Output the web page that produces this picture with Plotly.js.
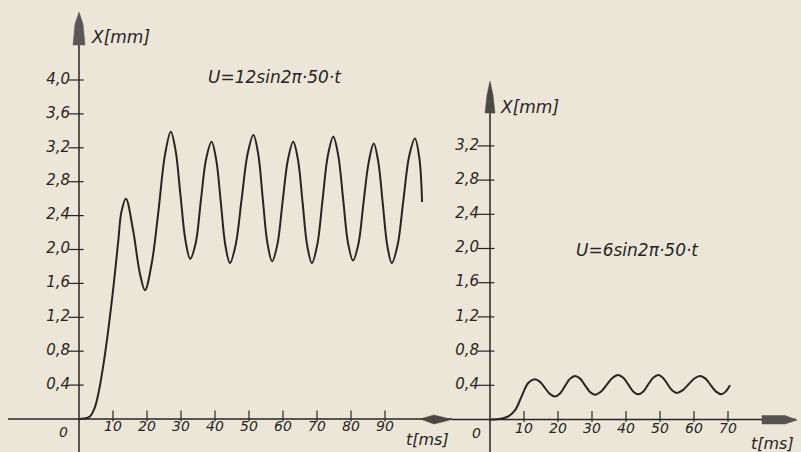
<!DOCTYPE html>
<html>
<head>
<meta charset="utf-8">
<script src="https://cdn.plot.ly/plotly-3.0.1.min.js"></script>
<style>html,body{margin:0;padding:0;background:#ece6d8;}#chart{width:801px;height:452px;}</style>
</head>
<body>
<div id="chart"></div>
<script>
// ---- data ----
// left chart: U = 12 sin 2π·50·t
const tLeft = [0, 1.5, 3.2, 4.5, 5.7, 7.1, 8.6, 10.1, 11.5, 12.5, 13.8, 15.9, 17.9, 19.4, 21.4, 23.3, 25.3, 27,
  28.4, 29.85, 31.3, 32.7, 34.3, 35.85, 37.4, 39, 40.35, 41.7, 43.05, 44.4, 46.1, 47.85, 49.6, 51.3,
  52.7, 54.05, 55.4, 56.8, 58.35, 59.9, 61.45, 63, 64.4, 65.75, 67.1, 68.5, 70.1, 71.65, 73.2, 74.8,
  76.25, 77.7, 79.15, 80.6, 82.15, 83.7, 85.25, 86.7, 88.0, 89.35, 90.7, 92, 93.7, 95.4, 97.1, 98.8, 100.1, 100.9];
const xLeft = [0, 0.005, 0.03, 0.12, 0.3, 0.62, 1.05, 1.55, 2.08, 2.45, 2.6, 2.23, 1.72, 1.52, 1.84, 2.43, 3.12, 3.39,
  3.17, 2.64, 2.11, 1.89, 2.07, 2.58, 3.07, 3.27, 3.06, 2.56, 2.05, 1.84, 2.06, 2.6, 3.13, 3.35,
  3.13, 2.6, 2.08, 1.86, 2.06, 2.57, 3.06, 3.27, 3.06, 2.56, 2.05, 1.84, 2.06, 2.59, 3.11, 3.33,
  3.11, 2.59, 2.07, 1.87, 2.06, 2.56, 3.04, 3.25, 3.04, 2.54, 2.04, 1.84, 2.05, 2.58, 3.1, 3.31, 3.08, 2.56];
// right chart: U = 6 sin 2π·50·t
const tRight = [0, 2, 3.9, 5.5, 7.4, 9.3, 11.3, 13.2, 14.7, 16.15, 17.6, 19.1, 20.6, 22.05, 23.5, 25,
  26.5, 27.95, 29.4, 30.9, 32.6, 34.3, 36, 37.7, 39.2, 40.65, 42.1, 43.6, 45.1, 46.55, 48, 49.5,
  50.85, 52.2, 53.55, 54.9, 56.6, 58.35, 60.1, 61.8, 63.4, 64.95, 66.5, 68.1, 69.4, 70.6];
const xRight = [0, 0.003, 0.015, 0.04, 0.11, 0.27, 0.43, 0.47, 0.44, 0.37, 0.3, 0.27, 0.305, 0.39, 0.475, 0.51,
  0.478, 0.4, 0.322, 0.29, 0.324, 0.405, 0.486, 0.52, 0.487, 0.41, 0.328, 0.295, 0.328, 0.41, 0.487, 0.52,
  0.489, 0.415, 0.341, 0.31, 0.34, 0.41, 0.48, 0.51, 0.478, 0.4, 0.326, 0.295, 0.33, 0.4];

const yTickValsL = [0.4, 0.8, 1.2, 1.6, 2.0, 2.4, 2.8, 3.2, 3.6, 4.0];
const yTickTextL = ['0,4', '0,8', '1,2', '1,6', '2,0', '2,4', '2,8', '3,2', '3,6', '4,0'];
const yTickValsR = [0.4, 0.8, 1.2, 1.6, 2.0, 2.4, 2.8, 3.2];
const yTickTextR = ['0,4', '0,8', '1,2', '1,6', '2,0', '2,4', '2,8', '3,2'];
const xTickValsL = [10, 20, 30, 40, 50, 60, 70, 80, 90];
const xTickValsR = [10, 20, 30, 40, 50, 60, 70];
const labelY = 'X[mm]';
const labelT = 't[ms]';
const formulaL = 'U=12sin2\u03c0\u00b750\u00b7t';
const formulaR = 'U=6sin2\u03c0\u00b750\u00b7t';

// ---- styling / geometry ----
const W = 801, H = 452;
const ink = '#262523';
const bg = '#ece6d8';
const FAM = '"DejaVu Sans", "Liberation Sans", sans-serif';
const PX = p => p / W;
const PY = p => 1 - p / H;
const L = {x0: 79, y0: 419, sx: 3.4, sy: 84.75};
const R = {x0: 490, y0: 419.5, sx: 3.4, sy: 85.5};

const rep = (arr, v) => arr.map(() => v);
const tf = size => ({family: FAM, size: size, color: ink, style: 'italic'});
const curveLine = {color: ink, width: 2, shape: 'spline', smoothing: 1};
const traces = [
  {x: tLeft, y: xLeft, xaxis: 'x', yaxis: 'y', mode: 'lines', line: curveLine, hoverinfo: 'skip'},
  {x: tRight, y: xRight, xaxis: 'x2', yaxis: 'y2', mode: 'lines', line: curveLine, hoverinfo: 'skip'},
  {x: rep(yTickValsL, -3 / L.sx), y: yTickValsL, xaxis: 'x', yaxis: 'y', mode: 'markers', marker: {symbol: 'line-ew', size: 11, line: {color: ink, width: 1.2}}, hoverinfo: 'skip'},
  {x: rep(yTickValsR, -4 / R.sx), y: yTickValsR, xaxis: 'x2', yaxis: 'y2', mode: 'markers', marker: {symbol: 'line-ew', size: 12, line: {color: ink, width: 1.2}}, hoverinfo: 'skip'},
  {x: xTickValsL, y: rep(xTickValsL, 3 / L.sy), xaxis: 'x', yaxis: 'y', mode: 'markers', marker: {symbol: 'line-ns', size: 8, line: {color: ink, width: 1.2}}, hoverinfo: 'skip'},
  {x: xTickValsR, y: rep(xTickValsR, 3 / R.sy), xaxis: 'x2', yaxis: 'y2', mode: 'markers', marker: {symbol: 'line-ns', size: 8, line: {color: ink, width: 1.2}}, hoverinfo: 'skip'},
  {x: rep(yTickValsL, -9 / L.sx), y: yTickValsL, text: yTickTextL, xaxis: 'x', yaxis: 'y', mode: 'text', textposition: 'middle left', textfont: tf(15), cliponaxis: false, hoverinfo: 'skip'},
  {x: rep(yTickValsR, -11 / R.sx), y: yTickValsR, text: yTickTextR, xaxis: 'x2', yaxis: 'y2', mode: 'text', textposition: 'middle left', textfont: tf(15), cliponaxis: false, hoverinfo: 'skip'},
  {x: xTickValsL, y: rep(xTickValsL, -1 / L.sy), text: xTickValsL.map(String), xaxis: 'x', yaxis: 'y', mode: 'text', textposition: 'bottom center', textfont: tf(14), cliponaxis: false, hoverinfo: 'skip'},
  {x: xTickValsR, y: rep(xTickValsR, -3 / R.sy), text: xTickValsR.map(String), xaxis: 'x2', yaxis: 'y2', mode: 'text', textposition: 'bottom center', textfont: tf(14), cliponaxis: false, hoverinfo: 'skip'}
];

const lineStyle = {color: ink, width: 1.5};
const poly = pts => 'M' + pts.map(p => PX(p[0]).toFixed(5) + ',' + PY(p[1]).toFixed(5)).join(' L') + ' Z';
const shapes = [
  {type: 'line', xref: 'paper', yref: 'paper', x0: PX(L.x0), x1: PX(L.x0), y0: 0, y1: PY(16), line: lineStyle},
  {type: 'line', xref: 'paper', yref: 'paper', x0: PX(8), x1: PX(452), y0: PY(L.y0), y1: PY(L.y0), line: lineStyle},
  {type: 'line', xref: 'paper', yref: 'paper', x0: PX(R.x0), x1: PX(R.x0), y0: 0, y1: PY(84), line: lineStyle},
  {type: 'line', xref: 'paper', yref: 'paper', x0: PX(452), x1: PX(796), y0: PY(R.y0), y1: PY(R.y0), line: lineStyle},
  {type: 'path', xref: 'paper', yref: 'paper', path: poly([[79, 12], [83, 24], [85, 45], [73, 45], [75, 24]]), fillcolor: '#5a5855', line: {color: '#5a5855', width: 0.5}},
  {type: 'path', xref: 'paper', yref: 'paper', path: poly([[490, 81], [493, 95], [495, 113], [485, 113], [487, 95]]), fillcolor: '#4a4845', line: {color: '#4a4845', width: 0.5}},
  {type: 'path', xref: 'paper', yref: 'paper', path: poly([[420, 419], [434, 415], [452, 419.5], [434, 424]]), fillcolor: '#4a4845', line: {color: '#4a4845', width: 0.5}},
  {type: 'path', xref: 'paper', yref: 'paper', path: poly([[762, 415.5], [785, 415.5], [797, 420], [785, 424], [762, 424]]), fillcolor: '#555350', line: {color: '#555350', width: 0.5}}
];

const ann = (text, px, py, size, xanchor) => ({
  text: text, xref: 'paper', yref: 'paper', x: PX(px), y: PY(py), xanchor: xanchor || 'center', yanchor: 'middle',
  showarrow: false, font: tf(size)
});
const annotations = [
  ann(labelY, 89, 37, 17, 'left'),
  ann(labelY, 498, 107, 17, 'left'),
  ann(formulaL, 275, 77, 17),
  ann(formulaR, 637, 250, 17),
  ann(labelT, 427, 439, 16),
  ann(labelT, 772, 443, 16),
  ann('0', 63, 432, 14),
  ann('0', 476, 433, 14)
];

const layout = {
  width: W, height: H,
  margin: {l: 0, r: 0, t: 0, b: 0},
  paper_bgcolor: bg, plot_bgcolor: bg,
  showlegend: false,
  xaxis: {domain: [0, 455 / W], range: [-L.x0 / L.sx, (455 - L.x0) / L.sx], visible: false, fixedrange: true},
  yaxis: {domain: [0, 1], range: [(L.y0 - H) / L.sy, L.y0 / L.sy], visible: false, fixedrange: true},
  xaxis2: {domain: [455 / W, 1], range: [(455 - R.x0) / R.sx, (W - R.x0) / R.sx], visible: false, anchor: 'y2', fixedrange: true},
  yaxis2: {domain: [0, 1], range: [(R.y0 - H) / R.sy, R.y0 / R.sy], visible: false, anchor: 'x2', fixedrange: true},
  shapes: shapes,
  annotations: annotations
};

Plotly.newPlot('chart', traces, layout, {displayModeBar: false, staticPlot: true});
</script>
</body>
</html>
